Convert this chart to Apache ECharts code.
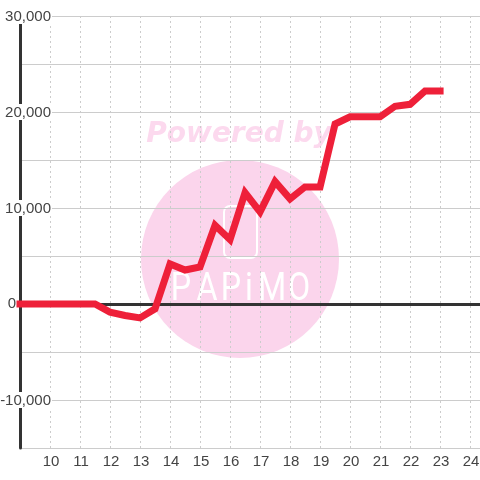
<!DOCTYPE html>
<html>
<head>
<meta charset="utf-8">
<style>
  html, body { margin: 0; padding: 0; background: #fff; }
  #chart { width: 480px; height: 480px; }
</style>
<script src="https://cdn.jsdelivr.net/npm/echarts@6/dist/echarts.min.js"></script>
</head>
<body>
<div id="chart"></div>
<script>
const xValues = [9, 9.5, 10, 10.5, 11, 11.5, 12, 12.5, 13, 13.5, 14, 14.5, 15, 15.5, 16, 16.5, 17, 17.5, 18, 18.5, 19, 19.5, 20, 20.5, 21, 21.5, 22, 22.5, 23];
const yValues = [0, 0, 0, 0, 0, 0, -850, -1200, -1450, -500, 4170, 3540, 3850, 8200, 6700, 11600, 9600, 12750, 10950, 12200, 12200, 18750, 19500, 19500, 19500, 20600, 20800, 22200, 22200];
const logoLetters = ["P", "A", "P", "i", "M", "O"];
const logoCenters = [181, 207, 231, 249, 272, 299];

const gray = "#ccc";
const dark = "#333";
const labelColor = "#444";
const pink = "#fbd5ec";

// watermark sits under the grid lines
const watermark = [
  { type: "circle", z: -10, shape: { cx: 240, cy: 259, r: 99 }, style: { fill: pink } },
  {
    type: "text", z: -10, x: 239, y: 135,
    style: {
      text: "Powered by", fill: "#fcd9ee", align: "center", verticalAlign: "middle",
      font: "italic bold 28px 'DejaVu Sans'"
    }
  },
  {
    type: "rect", z: -9,
    shape: { x: 224, y: 206, width: 33, height: 52, r: 6 },
    style: { fill: "none", stroke: "#fff", lineWidth: 2 }
  }
];
logoLetters.forEach((ch, i) => {
  watermark.push({
    type: "text", z: -9, x: logoCenters[i], y: 290, scaleX: 0.85,
    style: {
      text: ch, fill: "#fff", align: "center", verticalAlign: "middle",
      font: "400 38px Roboto"
    }
  });
});

const chart = echarts.init(document.getElementById("chart"), null, { renderer: "canvas" });
chart.setOption({
  animation: false,
  backgroundColor: "#fff",
  textStyle: { fontFamily: "Liberation Sans" },
  graphic: watermark,
  grid: { left: 20, right: 0, top: 16, bottom: 32, outerBoundsMode: "none" },
  xAxis: [
    {
      type: "value",
      min: 9,
      max: 24.33,
      interval: 1,
      axisLine: { show: false, onZero: false },
      axisTick: { show: false },
      axisLabel: {
        color: labelColor,
        fontSize: 15,
        margin: 6,
        padding: [0, 0, 0, 2],
        showMinLabel: false,
        showMaxLabel: false,
        formatter: (v) => (Number.isInteger(v) ? String(v) : "")
      },
      splitLine: { show: true, lineStyle: { color: gray, width: 1, type: [2, 3] } }
    },
    {
      // heavy zero line, no labels
      type: "value",
      min: 9,
      max: 24.33,
      position: "bottom",
      axisLine: { show: true, onZero: true, lineStyle: { color: dark, width: 3 } },
      axisTick: { show: false },
      axisLabel: { show: false },
      splitLine: { show: false }
    }
  ],
  yAxis: {
    type: "value",
    min: -15000,
    max: 30000,
    interval: 5000,
    axisLine: { show: true, onZero: false, lineStyle: { color: dark, width: 3 } },
    axisTick: { show: false },
    splitLine: { show: true, lineStyle: { color: gray, width: 1 } },
    axisLabel: {
      color: labelColor,
      fontSize: 15,
      margin: -32,
      formatter: (v) => {
        if (v === 0) return "{zero|0}";
        if (v % 10000 !== 0) return "";
        return "{num|" + v.toLocaleString("en-US") + "}";
      },
      rich: {
        num: { backgroundColor: "#fff", fontSize: 15, color: labelColor, padding: [1, 1, 0, 1] },
        zero: { fontSize: 15, color: labelColor, padding: [0, 36, 0, 0] }
      }
    }
  },
  series: [
    {
      type: "line",
      data: xValues.map((x, i) => [x, yValues[i]]),
      showSymbol: false,
      smooth: false,
      clip: false,
      z: 5,
      lineStyle: { color: "#ee2039", width: 7, cap: "square", join: "miter" }
    }
  ]
});
</script>
</body>
</html>
